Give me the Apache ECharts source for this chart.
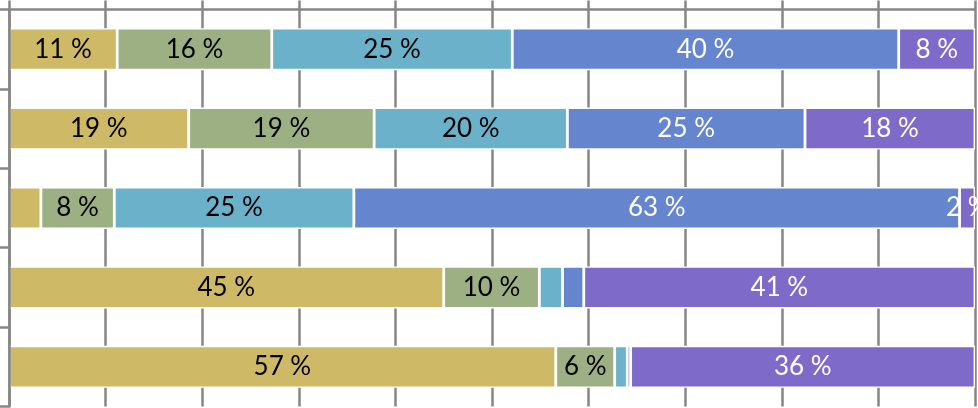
<!DOCTYPE html>
<html>
<head>
<meta charset="utf-8">
<script src="https://cdn.jsdelivr.net/npm/echarts@6/dist/echarts.min.js"></script>
<style>
html,body{margin:0;padding:0;background:#fff;}
#chart{width:978px;height:408px;}
</style>
</head>
<body>
<div id="chart"></div>
<script>
const categories = ['Row 1', 'Row 2', 'Row 3', 'Row 4', 'Row 5'];
const seriesNames = ['S1', 'S2', 'S3', 'S4', 'S5'];
const s1 = [11.2, 18.6, 3.3, 45.0, 56.6];
const s2 = [16.0, 19.2, 7.6, 9.9, 6.1];
const s3 = [24.9, 20.0, 24.8, 2.4, 1.3];
const s4 = [40.0, 24.6, 62.7, 2.2, 0.35];
const s5 = [7.9, 17.6, 1.6, 40.5, 35.65];
const colors = ['#CEB966', '#9CB084', '#6BB1C9', '#6585CF', '#7E6BC9'];
const labelColors = ['#000000', '#000000', '#000000', '#ffffff', '#ffffff'];
// [row, series] pairs whose value labels are not shown
const hiddenLabels = [[2, 0], [3, 2], [3, 3], [4, 2], [4, 3]];

const allSeries = [s1, s2, s3, s4, s5];
const isHidden = (r, s) => hiddenLabels.some(p => p[0] === r && p[1] === s);

const chart = echarts.init(document.getElementById('chart'), null, {renderer: 'canvas'});
const gray = '#868686';
chart.setOption({
  animation: false,
  backgroundColor: '#ffffff',
  grid: {left: 9, top: 9.5, width: 966, height: 397, containLabel: false},
  xAxis: {
    type: 'value', min: 0, max: 100, interval: 10, position: 'top',
    axisLabel: {show: false},
    axisLine: {show: true, lineStyle: {color: gray, width: 2.5}},
    axisTick: {show: true, inside: false, length: 9, lineStyle: {color: gray, width: 2.5}},
    splitLine: {show: true, lineStyle: {color: gray, width: 2.5}}
  },
  yAxis: {
    type: 'category', data: categories, inverse: true, z: 5,
    axisLabel: {show: false},
    axisLine: {show: true, lineStyle: {color: gray, width: 2.5}},
    axisTick: {show: true, inside: false, length: 9, lineStyle: {color: gray, width: 2.5}},
    splitLine: {show: false}
  },
  series: allSeries.map((vals, si) => ({
    name: seriesNames[si],
    type: 'bar',
    stack: 'total',
    barWidth: 42,
    itemStyle: {color: colors[si], borderColor: '#ffffff', borderWidth: 1.4},
    label: {
      show: true, position: 'inside',
      color: labelColors[si],
      fontFamily: 'Lato', fontSize: 26,
      formatter: p => Math.round(p.value) + ' %'
    },
    data: vals.map((v, ri) => isHidden(ri, si) ? {value: v, label: {show: false}} : v)
  }))
});
</script>
</body>
</html>
